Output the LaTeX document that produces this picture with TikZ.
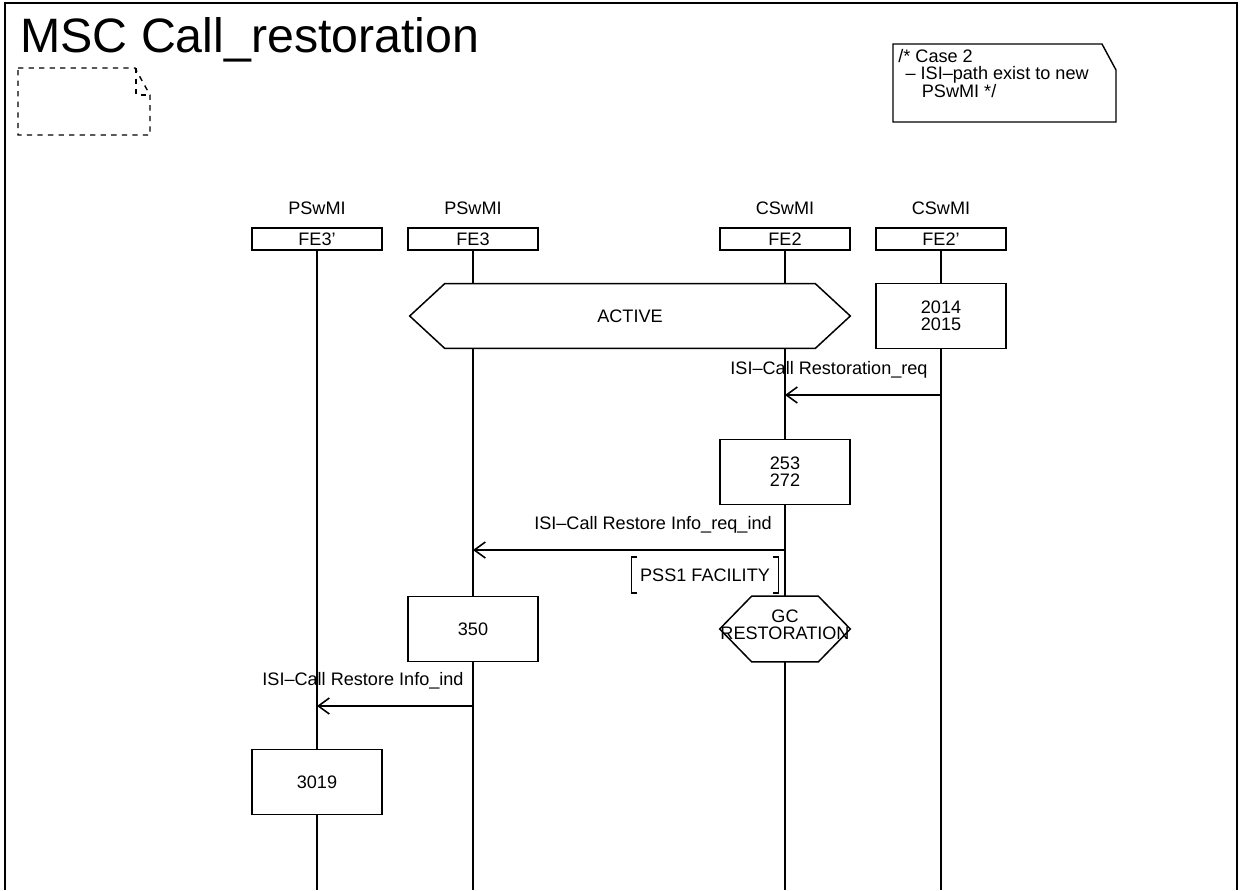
\documentclass[tikz,border=0pt]{standalone}
\usepackage{fontspec}
\setmainfont{Liberation Sans}
\usetikzlibrary{arrows.meta,positioning}
\tikzset{
  inst/.style   ={draw,line width=0.85pt,minimum width=2.6cm,minimum height=0.44cm,inner sep=0pt},
  actbox/.style ={draw,line width=0.85pt,minimum width=2.6cm,minimum height=1.3cm,
                  inner sep=0pt,align=center},
  hexnode/.style={inner sep=0pt,align=center},
  hexline/.style={line width=0.85pt},
  life/.style   ={line width=0.9pt},
  msg/.style    ={-{Straight Barb[length=2.2mm,width=3.2mm]},line width=0.9pt},
  msglbl/.style ={inner sep=0pt,anchor=base},
  note/.style   ={line width=0.8pt}
}

\begin{document}
\begin{tikzpicture}[x=0.02cm,y=-0.02cm,font=\fontsize{10.3}{9.6}\selectfont]
  \useasboundingbox (0,0) rectangle (1241,890);
  % frame and title
  \draw[line width=0.9pt] (5,890) -- (5,3) -- (1237,3) -- (1237,890);
  \node[anchor=base west,inner sep=0pt,font=\fontsize{27.5}{32}\selectfont] (title) at (20,52) {MSC Call\_restoration};
  % empty text symbol
  \draw[note,dashed] (18,68) -- (135,68) -- (150,95) -- (150,135) -- (18,135) -- cycle;
  \draw[note,dashed] (136,68) -- (136,95) -- (150,95);
  % comment
  \draw[note] (893,44) -- (1102,44) -- (1116,70) -- (1116,122) -- (893,122) -- cycle;
  \node[anchor=north west,inner sep=0pt,align=left] (cmt) at (898,49)
    {/* Case 2\\\hspace*{0.4em}– ISI–path exist to new\\\hspace*{1.3em}PSwMI */};

  % instances
  \node[inst] (fe3p) at (317,239) {FE3'};
  \node[inst] (fe3)  at (473,239) {FE3};
  \node[inst] (fe2)  at (785,239) {FE2};
  \node[inst] (fe2p) at (941,239) {FE2'};
  \node[above=2.5mm of fe3p,inner sep=0pt] (kind3p) {PSwMI};
  \node[above=2.5mm of fe3,inner sep=0pt]  (kind3)  {PSwMI};
  \node[above=2.5mm of fe2,inner sep=0pt]  (kind2)  {CSwMI};
  \node[above=2.5mm of fe2p,inner sep=0pt] (kind2p) {CSwMI};

  % condition ACTIVE
  \node[hexnode,minimum width=8.8cm,minimum height=1.28cm] (active) at (630,316) {ACTIVE};
  \draw[hexline] (active.west) -- ([xshift=0.7cm]active.north west) -- ([xshift=-0.7cm]active.north east)
    -- (active.east) -- ([xshift=-0.7cm]active.south east) -- ([xshift=0.7cm]active.south west) -- cycle;

  % actions
  \node[actbox] (a2014) at (941,316) {2014\\2015};
  \node[actbox] (a253)  at (785,472) {253\\272};
  \node[actbox] (a350)  at (473,629) {350};
  \node[actbox] (a3019) at (317,782) {3019};

  % condition GC RESTORATION
  \node[hexnode,minimum width=2.6cm,minimum height=1.3cm] (gcr) at (785,629) {};
  \draw[hexline] (gcr.west) -- ([xshift=0.64cm]gcr.north west) -- ([xshift=-0.64cm]gcr.north east)
    -- (gcr.east) -- ([xshift=-0.64cm]gcr.south east) -- ([xshift=0.64cm]gcr.south west) -- cycle;
  \node[hexnode] (gcrtext) at (785,625) {GC\\RESTORATION};

  % PSS1 FACILITY
  \node[inner sep=0pt,minimum width=2.92cm,minimum height=0.7cm] (pss) at (705,575) {PSS1 FACILITY};
  \draw[line width=0.8pt] ([xshift=0.1cm]pss.north west) -- (pss.north west) -- (pss.south west) -- ([xshift=0.1cm]pss.south west);
  \draw[line width=0.8pt] ([xshift=-0.1cm]pss.north east) -- (pss.north east) -- (pss.south east) -- ([xshift=-0.1cm]pss.south east);

  % lifeline ends and message points
  \coordinate (end3p) at (317,890);
  \coordinate (end3)  at (473,890);
  \coordinate (end2)  at (785,890);
  \coordinate (end2p) at (941,890);
  \coordinate (m1a) at (941,395);
  \coordinate (m1b) at (785,395);
  \coordinate (m2a) at (785,550);
  \coordinate (m2b) at (473,550);
  \coordinate (m3a) at (473,706);
  \coordinate (m3b) at (317,706);

  % lifelines
  \draw[life] (fe3p) -- (a3019);
  \draw[life] (a3019) -- (end3p);
  \draw[life] (fe3) -- (fe3 |- active.north);
  \draw[life] (fe3 |- active.south) -- (a350);
  \draw[life] (a350) -- (end3);
  \draw[life] (fe2) -- (fe2 |- active.north);
  \draw[life] (fe2 |- active.south) -- (a253);
  \draw[life] (a253) -- (gcr.north);
  \draw[life] (gcr.south) -- (end2);
  \draw[life] (fe2p) -- (a2014);
  \draw[life] (a2014) -- (end2p);

  % messages
  \draw[msg] (m1a) -- (m1b);
  \node[msglbl] (l1) at (829,374) {ISI–Call Restoration\_req};
  \draw[msg] (m2a) -- (m2b);
  \node[msglbl] (l2) at (653,529) {ISI–Call Restore Info\_req\_ind};
  \draw[msg] (m3a) -- (m3b);
  \node[msglbl] (l3) at (363,685) {ISI–Call Restore Info\_ind};
\end{tikzpicture}
\end{document}
